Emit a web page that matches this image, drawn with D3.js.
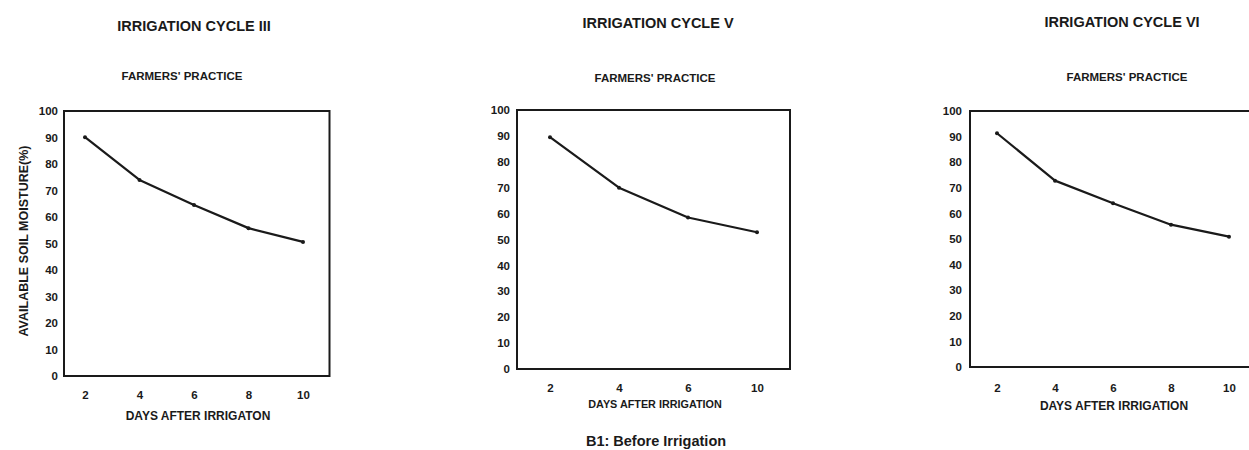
<!DOCTYPE html>
<html>
<head>
<meta charset="utf-8">
<script src="https://cdn.jsdelivr.net/npm/d3@7"></script>
<style>
  html, body { margin: 0; padding: 0; background: #fff; }
  svg { display: block; }
  text { font-family: "Liberation Sans", Arial, sans-serif; fill: #1a1a1a; }
</style>
</head>
<body>
<svg id="chart" width="1249" height="450"></svg>
<script>
// ---- data ----
const daysFull = ["2", "4", "6", "8", "10"];
const daysCycleV = ["2", "4", "6", "10"];
const cycleIII = [90.1, 74.0, 64.5, 55.8, 50.6];
const cycleV = [89.5, 70.0, 58.5, 52.8];
const cycleVI = [91.3, 72.8, 64.0, 55.6, 50.9];
const yTicks = [0, 10, 20, 30, 40, 50, 60, 70, 80, 90, 100];
const panelTitles = ["IRRIGATION CYCLE III", "IRRIGATION CYCLE V", "IRRIGATION CYCLE VI"];
const subTitle = "FARMERS' PRACTICE";
const xTitles = ["DAYS AFTER IRRIGATON", "DAYS AFTER IRRIGATION", "DAYS AFTER IRRIGATION"];
const yTitle = "AVAILABLE SOIL MOISTURE(%)";
const caption = "B1: Before Irrigation";

// ---- layout ----
const panels = [
  { days: daysFull, values: cycleIII, title: panelTitles[0], xTitle: xTitles[0],
    left: 64, right: 329.5, top: 111, bottom: 376, x0: 85, x1: 303,
    titleX: 194, titleY: 27, subX: 182, subY: 77, xtX: 198, xtY: 417, xtFs: 12, xPad: 15, yPad: 6 },
  { days: daysCycleV, values: cycleV, title: panelTitles[1], xTitle: xTitles[1],
    left: 517, right: 790, top: 110, bottom: 369, x0: 550, x1: 757,
    titleX: 658, titleY: 24, subX: 655, subY: 79, xtX: 655, xtY: 405, xtFs: 10.8, xPad: 15, yPad: 7 },
  { days: daysFull, values: cycleVI, title: panelTitles[2], xTitle: xTitles[2],
    left: 970, right: 1256, top: 111, bottom: 367, x0: 997, x1: 1229,
    titleX: 1122, titleY: 23, subX: 1127, subY: 78, xtX: 1114, xtY: 407, xtFs: 12, xPad: 17, yPad: 8 }
];

const svg = d3.select("#chart");

panels.forEach((p, i) => {
  const g = svg.append("g");
  const x = d3.scalePoint().domain(p.days).range([p.x0, p.x1]);
  const y = d3.scaleLinear().domain([0, 100]).range([p.bottom, p.top]);

  // frame
  g.append("rect")
    .attr("x", p.left).attr("y", p.top)
    .attr("width", p.right - p.left).attr("height", p.bottom - p.top)
    .attr("fill", "none").attr("stroke", "#1a1a1a").attr("stroke-width", 2);

  // y axis
  const ya = g.append("g").attr("transform", `translate(${p.left},0)`)
    .call(d3.axisLeft(y).tickValues(yTicks).tickSize(0).tickPadding(p.yPad));
  ya.select(".domain").remove();
  ya.selectAll("text").attr("font-size", 11.5).attr("font-weight", "bold")
    .style("font-family", "'Liberation Sans', Arial, sans-serif").attr("fill", "#1a1a1a");

  // x axis
  const xa = g.append("g").attr("transform", `translate(0,${p.bottom})`)
    .call(d3.axisBottom(x).tickSize(0).tickPadding(p.xPad));
  xa.select(".domain").remove();
  xa.selectAll("text").attr("font-size", 11.5).attr("font-weight", "bold")
    .style("font-family", "'Liberation Sans', Arial, sans-serif").attr("fill", "#1a1a1a");

  // line
  const data = p.days.map((d, k) => ({ d, v: p.values[k] }));
  g.append("path").datum(data)
    .attr("fill", "none").attr("stroke", "#1a1a1a").attr("stroke-width", 2.2)
    .attr("stroke-linejoin", "round")
    .attr("d", d3.line().x(e => x(e.d)).y(e => y(e.v)));
  g.selectAll("circle.pt").data(data).enter().append("circle")
    .attr("class", "pt").attr("cx", e => x(e.d)).attr("cy", e => y(e.v))
    .attr("r", 2).attr("fill", "#1a1a1a");

  // titles
  g.append("text").attr("x", p.titleX).attr("y", p.titleY)
    .attr("text-anchor", "middle").attr("dominant-baseline", "middle")
    .attr("font-size", 14.5).attr("font-weight", "bold").text(p.title);
  g.append("text").attr("x", p.subX).attr("y", p.subY)
    .attr("text-anchor", "middle").attr("dominant-baseline", "middle")
    .attr("font-size", 11.5).attr("font-weight", "bold").text(subTitle);
  g.append("text").attr("x", p.xtX).attr("y", p.xtY)
    .attr("text-anchor", "middle").attr("dominant-baseline", "middle")
    .attr("font-size", p.xtFs).attr("font-weight", "bold").text(p.xTitle);

  if (i === 0) {
    g.append("text")
      .attr("transform", "translate(25,241) rotate(-90)")
      .attr("text-anchor", "middle").attr("dominant-baseline", "middle")
      .attr("font-size", 12.5).attr("font-weight", "bold").text(yTitle);
  }
});

svg.append("text").attr("x", 656).attr("y", 442)
  .attr("text-anchor", "middle").attr("dominant-baseline", "middle")
  .attr("font-size", 14.5).attr("font-weight", "bold").text(caption);
</script>
</body>
</html>
